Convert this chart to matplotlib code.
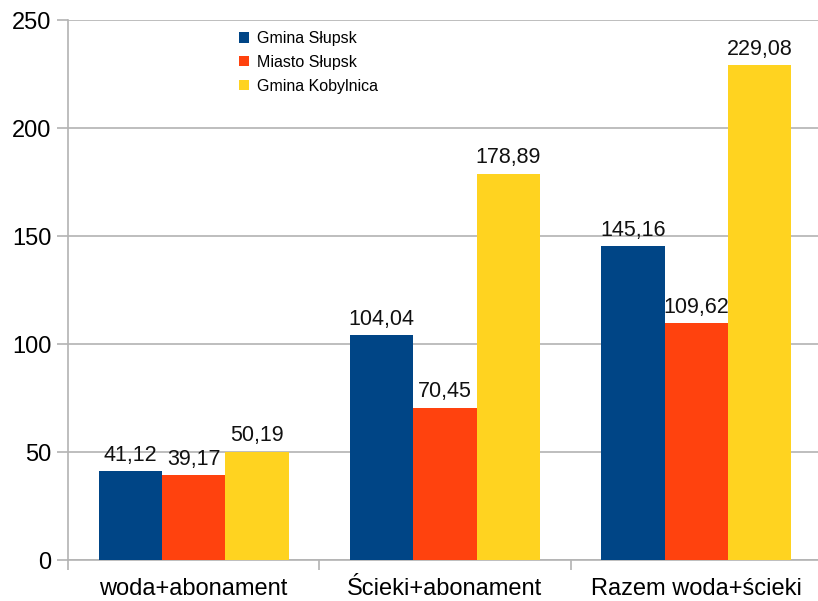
import matplotlib
matplotlib.use("Agg")
import matplotlib.pyplot as plt
import numpy as np

categories = ["woda+abonament", "Ścieki+abonament", "Razem woda+ścieki"]
series_names = ["Gmina Słupsk", "Miasto Słupsk", "Gmina Kobylnica"]
gmina_slupsk = [41.12, 104.04, 145.16]
miasto_slupsk = [39.17, 70.45, 109.62]
gmina_kobylnica = [50.19, 178.89, 229.08]
colors = ["#004586", "#ff420e", "#ffd320"]

plt.rcParams['font.family'] = ['Liberation Sans', 'DejaVu Sans']

fig = plt.figure(figsize=(8.18, 6.01), dpi=100)
ax = fig.add_axes([0.0831, 0.0682, 0.9218, 0.8985])
ax.set_clip_on(False)

x = np.arange(len(categories))
w = 0.252
data = [gmina_slupsk, miasto_slupsk, gmina_kobylnica]
for i, (vals, name, c) in enumerate(zip(data, series_names, colors)):
    bars = ax.bar(x + (i - 1) * w, vals, w, color=c, label=name, zorder=3)
    labels = [f"{v:.2f}".replace(".", ",") for v in vals]
    ax.bar_label(bars, labels=labels, padding=4, fontsize=15.5, color="#111111")

ax.set_xlim(-0.5, 2.5)
ax.set_ylim(0, 250)
ax.set_yticks(np.arange(0, 251, 50))
ax.yaxis.grid(True, color="#b3b3b3", linewidth=1.2, zorder=0)
ax.set_axisbelow(True)
for s in ["top", "right"]:
    ax.spines[s].set_visible(False)
for s in ["left", "bottom"]:
    ax.spines[s].set_color("#b3b3b3")
    ax.spines[s].set_linewidth(1.2)
ax.set_xticks(x)
ax.set_xticklabels(categories, fontsize=17)
ax.set_xticks([-0.5, 0.5, 1.5], minor=True)
ax.tick_params(axis="x", which="major", length=0, pad=13)
ax.tick_params(axis="x", which="minor", length=7.2, color="#b3b3b3", width=1.2)
ax.tick_params(axis="y", length=8, color="#b3b3b3", width=1.2, labelsize=17, pad=4)

leg = ax.legend(loc="upper left", bbox_to_anchor=(0.208, 1.006), frameon=False,
                fontsize=11.5, handlelength=0.6, handleheight=0.6, handletextpad=0.5,
                labelspacing=0.55)

fig.savefig("out.png", dpi=100)
